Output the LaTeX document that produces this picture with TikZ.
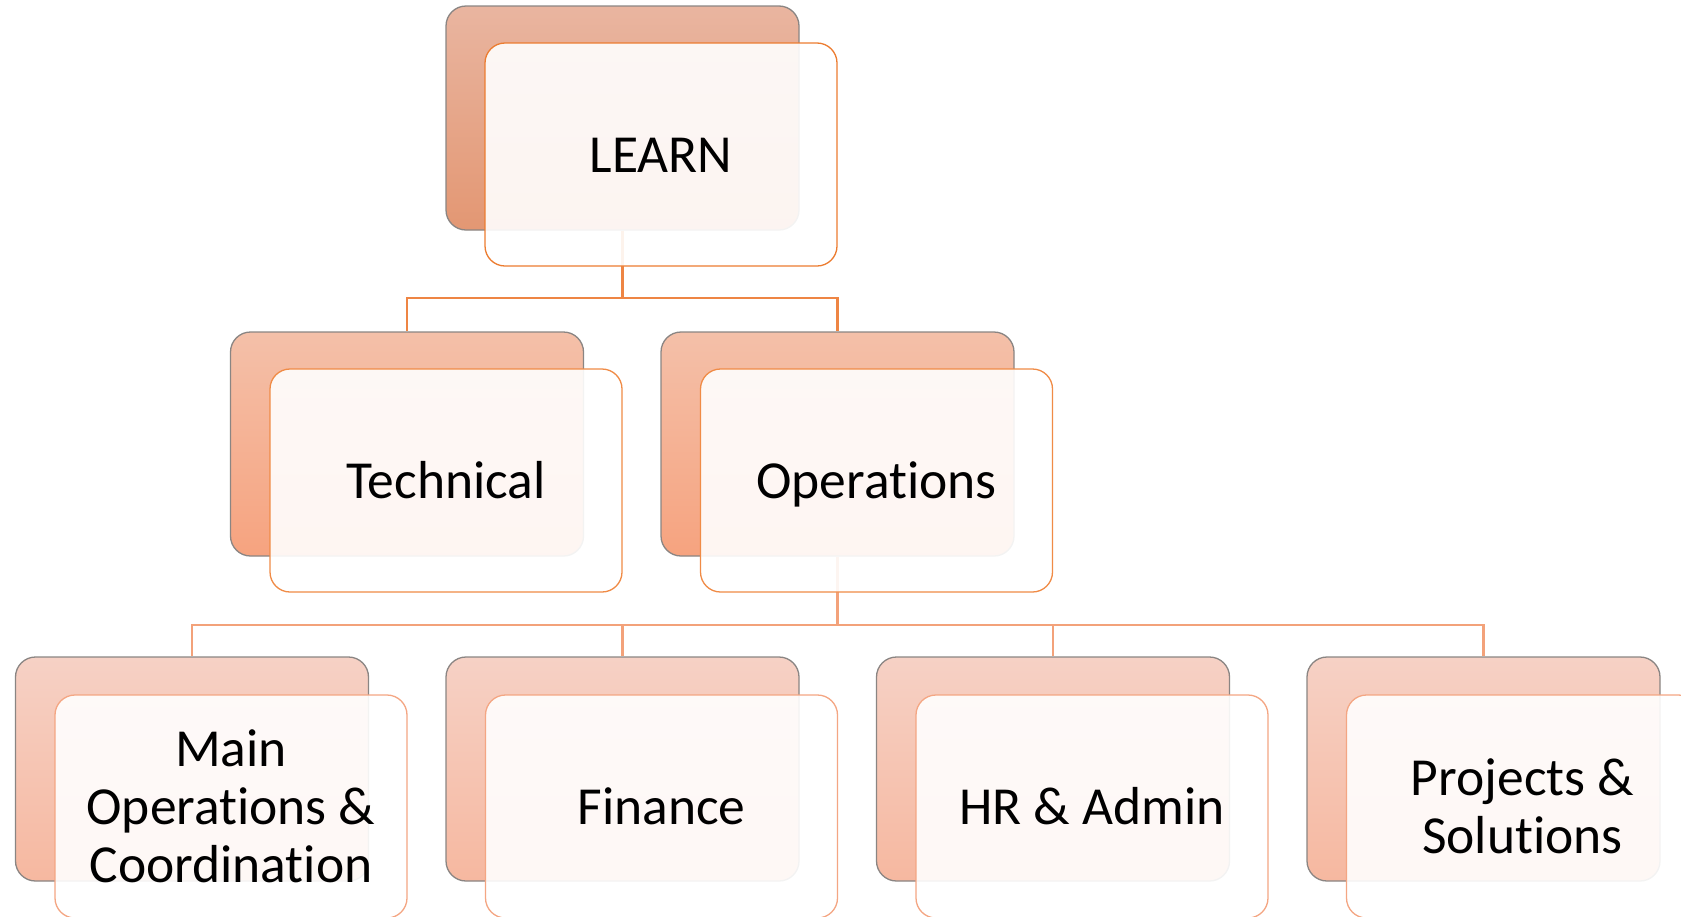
\documentclass[tikz,border=0pt]{standalone}
\usepackage{fontspec}
\setmainfont{Carlito}[Ligatures=NoCommon]
\definecolor{bAtop}{HTML}{E9B5A0}
\definecolor{bAbot}{HTML}{E39773}
\definecolor{bBtop}{HTML}{F4C0A9}
\definecolor{bBbot}{HTML}{F6A37F}
\definecolor{bCtop}{HTML}{F6D1C5}
\definecolor{bCbot}{HTML}{F6B8A0}
\definecolor{fA}{HTML}{EC7C30}
\definecolor{fB}{HTML}{F08B46}
\definecolor{fC}{HTML}{F4A683}
\definecolor{cA}{HTML}{EE8544}
\definecolor{cB}{HTML}{F3A27A}
\definecolor{edgegray}{HTML}{8A8583}
\begin{document}
\begin{tikzpicture}[x=1pt,y=-1pt,
  backbox/.style={draw=edgegray, line width=1.3pt, rounded corners=20pt,
    minimum width=353pt, minimum height=224pt, inner sep=0pt},
  frontbox/.style={draw=#1, line width=1.3pt, rounded corners=20pt,
    fill=white, fill opacity=0.9, text opacity=1,
    minimum width=352pt, minimum height=223pt, inner sep=0pt,
    font=\fontsize{53.5}{58}\selectfont, align=center, text=black},
  oneline/.style={text height=35pt, text depth=0pt},
  conn/.style={draw=#1, line width=2.2pt}]
\useasboundingbox (0,0) rectangle (1681,916);
\clip (0,0) rectangle (1681,916);

% back boxes
\node[backbox, top color=bAtop, bottom color=bAbot] (bL) at (622.5,118) {};
\node[backbox, top color=bBtop, bottom color=bBbot] (bT) at (407,444) {};
\node[backbox, top color=bBtop, bottom color=bBbot] (bO) at (837.5,444) {};
\node[backbox, top color=bCtop, bottom color=bCbot] (b1) at (192,769) {};
\node[backbox, top color=bCtop, bottom color=bCbot] (b2) at (622.5,769) {};
\node[backbox, top color=bCtop, bottom color=bCbot] (b3) at (1053,769) {};
\node[backbox, top color=bCtop, bottom color=bCbot] (b4) at (1483.5,769) {};

% connectors (drawn beneath the front boxes)
\coordinate (j1) at (622.5,298);
\coordinate (j2) at (837.5,625);
\draw[conn=cA] (bL.south) -- (j1) -| (bT.north);
\draw[conn=cA] (j1) -| (bO.north);
\draw[conn=cB] (bO.south) -- (j2) -| (b1.north);
\draw[conn=cB] (j2) -| (b2.north);
\draw[conn=cB] (j2) -| (b3.north);
\draw[conn=cB] (j2) -| (b4.north);

% front boxes
\node[frontbox=fA, oneline] (fL) at (661,154.5) {LEARN};
\node[frontbox=fB, oneline] (fT) at (446,480.5) {Technical};
\node[frontbox=fB, oneline] (fO) at (876.5,480.5) {Operations};
\node[frontbox=fC] (f1) at (231,806.5) {Main\\Operations \&\\Coordination};
\node[frontbox=fC, oneline] (f2) at (661.5,806.5) {Finance};
\node[frontbox=fC, oneline] (f3) at (1092,806.5) {HR \& Admin};
\node[frontbox=fC] (f4) at (1522.5,806.5) {Projects \&\\Solutions};
\end{tikzpicture}
\end{document}
